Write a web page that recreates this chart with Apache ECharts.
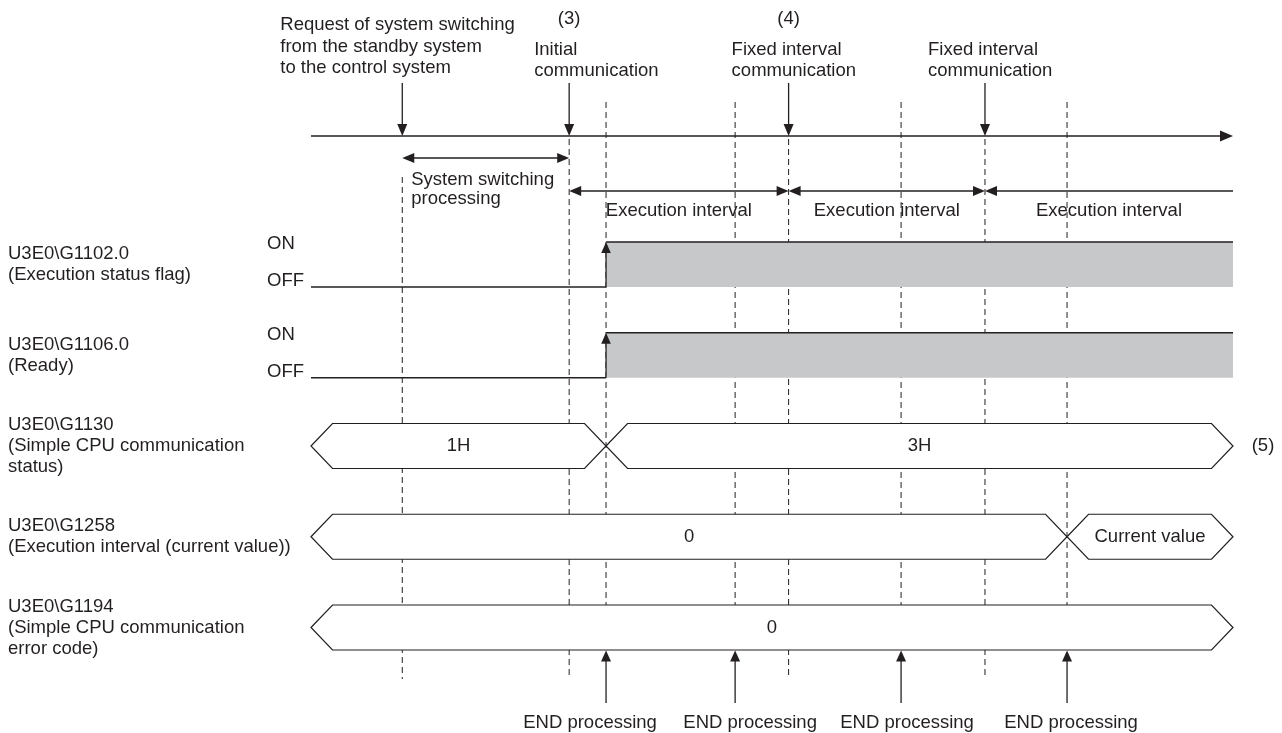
<!DOCTYPE html>
<html>
<head>
<meta charset="utf-8">
<script src="https://cdn.jsdelivr.net/npm/echarts@6/dist/echarts.min.js"></script>
<style>html,body{margin:0;padding:0;background:#fff}#c{width:1282px;height:733px}</style>
</head>
<body>
<div id="c"></div>
<script>
// ---------------- data (time along the timeline, arbitrary units 0..100) ----------------
const requestTime = 9.9;                       // Request of system switching
const initialCommTime = 28;                    // (3) Initial communication
const fixedCommTimes = [51.8, 73.1];           // (4) Fixed interval communication
const endProcessingTimes = [32, 46, 64, 82];   // END processing of the CPU
const switchingInterval = [9.9, 28];           // System switching processing
const executionIntervals = [[28, 51.8], [51.8, 73.1], [73.1, 100]];
const flagOnTime = 32;                         // U3E0\G1102.0 turns ON
const readyOnTime = 32;                        // U3E0\G1106.0 turns ON
const statusChanges = [0, 32, 100];            // U3E0\G1130
const statusValues = ['1H', '3H'];
const intervalChanges = [0, 82, 100];          // U3E0\G1258
const intervalValues = ['0', 'Current value'];
const errorChanges = [0, 100];                 // U3E0\G1194
const errorValues = ['0'];
const rowLabels = [
  'U3E0\\G1102.0\n(Execution status flag)',
  'U3E0\\G1106.0\n(Ready)',
  'U3E0\\G1130\n(Simple CPU communication\nstatus)',
  'U3E0\\G1258\n(Execution interval (current value))',
  'U3E0\\G1194\n(Simple CPU communication\nerror code)'
];
const requestLabel = ['Request of system switching', 'from the standby system', 'to the control system'];
const initialLabel = ['Initial', 'communication'];
const fixedLabel = ['Fixed interval', 'communication'];
const switchingLabel = ['System switching', 'processing'];
const executionLabel = 'Execution interval';
const endLabel = 'END processing';
const noteLabels = ['(3)', '(4)', '(5)'];

// ---------------- layout ----------------
const W = 1282, H = 733;
const T0_PX = 311, PX_PER_T = 9.22;           // timeline starts at 311px, 9.22 px per unit
const ROW0_PX = 264.5, ROW_PX = 90.75;        // row 0 centre and row pitch
const X_MIN = -T0_PX / PX_PER_T;
const X_MAX = (W - T0_PX) / PX_PER_T;
const Y_MIN = -ROW0_PX / ROW_PX;
const Y_MAX = (H - ROW0_PX) / ROW_PX;
const lane = px => (px - ROW0_PX) / ROW_PX;
const HALF = 22.5 / ROW_PX;
const LANE = {
  note: lane(19), text1: lane(50), text2: lane(71),
  req: [lane(25), lane(46.5), lane(68)],
  calloutTop: lane(83), timeline: lane(136), switchArrow: lane(158),
  switchText: [lane(180), lane(199)], execArrow: lane(191), execText: lane(211),
  guideTopEnd: lane(102), guideTopEvent: lane(139), guideTopReq: lane(177), guideBottom: lane(679),
  endTip: lane(650.5), endTail: lane(703), endText: lane(723)
};
const endLabelDx = [-16, 15, 6, 4];
const INK = '#231f20', GRAY = '#c7c8ca';
const FONT = '"Liberation Sans", Arial, sans-serif', FS = 18.5;

const seg = (a, b, st) => ({ type: 'line', shape: { x1: a[0], y1: a[1], x2: b[0], y2: b[1] },
  style: Object.assign({ stroke: INK, lineWidth: 1.3, fill: null }, st || {}) });
const head = (tip, dx, dy, len, hw) => {
  const bx = tip[0] - dx * len, by = tip[1] - dy * len;
  return { type: 'polygon', shape: { points: [tip, [bx - dy * hw, by + dx * hw], [bx + dy * hw, by - dx * hw]] },
    style: { fill: INK, stroke: null } };
};
const txt = (s, p, align, st) => ({ type: 'text', x: p[0], y: p[1],
  style: Object.assign({ text: s, fill: INK, fontSize: FS, fontFamily: FONT, align: align || 'left',
    verticalAlign: 'middle', lineHeight: 21 }, st || {}) });

function layer(name, z, build) {
  return { type: 'custom', name, z, silent: true, coordinateSystem: 'cartesian2d', clip: false,
    data: [[0, 0]], renderItem: (params, api) => ({ type: 'group', children: build(api) }) };
}

const guides = layer('guides', 1, api => {
  const out = [];
  const add = (t, y1, y2) => out.push(seg(api.coord([t, y1]), api.coord([t, y2]), { lineDash: [6, 4], lineWidth: 1 }));
  add(requestTime, LANE.guideTopReq, LANE.guideBottom);
  add(initialCommTime, LANE.guideTopEvent, LANE.guideBottom);
  fixedCommTimes.forEach(t => add(t, LANE.guideTopEvent, LANE.guideBottom));
  endProcessingTimes.forEach(t => add(t, LANE.guideTopEnd, 4 - HALF));
  return out;
});

const timeline = layer('timeline', 2, api => {
  const out = [];
  const a = api.coord([0, LANE.timeline]), b = api.coord([100, LANE.timeline]);
  out.push(seg(a, [b[0] - 6, b[1]]), head(b, 1, 0, 13, 5.5));
  [requestTime, initialCommTime].concat(fixedCommTimes).forEach(t => {
    const top = api.coord([t, LANE.calloutTop]), tip = api.coord([t, LANE.timeline]);
    out.push(seg(top, [tip[0], tip[1] - 6]), head(tip, 0, 1, 12, 5));
  });
  const s1 = api.coord([switchingInterval[0], LANE.switchArrow]), s2 = api.coord([switchingInterval[1], LANE.switchArrow]);
  out.push(seg([s1[0] + 6, s1[1]], [s2[0] - 6, s2[1]]), head(s1, -1, 0, 12, 5), head(s2, 1, 0, 12, 5));
  executionIntervals.forEach(([t1, t2]) => {
    const p1 = api.coord([t1, LANE.execArrow]), p2 = api.coord([t2, LANE.execArrow]);
    const open = t2 >= 100;
    out.push(seg([p1[0] + 6, p1[1]], [open ? p2[0] : p2[0] - 6, p2[1]]), head(p1, -1, 0, 12, 5));
    if (!open) out.push(head(p2, 1, 0, 12, 5));
  });
  return out;
});

const signals = layer('signals', 2, api => {
  const out = [];
  [flagOnTime, readyOnTime].forEach((t, r) => {
    const hi = r - HALF, lo = r + HALF;
    const pOn = api.coord([t, hi]), pOff = api.coord([t, lo]);
    const endHi = api.coord([100, hi]), start = api.coord([0, lo]);
    out.push({ type: 'rect', shape: { x: pOn[0], y: pOn[1], width: endHi[0] - pOn[0], height: pOff[1] - pOn[1] },
      style: { fill: GRAY, stroke: null } });
    out.push(seg(start, pOff), seg(pOff, [pOn[0], pOn[1] + 6]), seg(pOn, endHi), head(pOn, 0, -1, 11, 4.8));
    const x0 = api.coord([0, r])[0];
    out.push(txt('ON', [x0 - 44, api.coord([0, hi])[1] + 2]), txt('OFF', [x0 - 44, api.coord([0, lo])[1] - 6]));
  });
  return out;
});

const dataRows = layer('dataRows', 2, api => {
  const out = [];
  const D = 21.5;
  [[statusChanges, statusValues], [intervalChanges, intervalValues], [errorChanges, errorValues]].forEach(([ch, vals], i) => {
    const r = i + 2;
    const top = api.coord([0, r - HALF])[1], bot = api.coord([0, r + HALF])[1];
    for (let k = 0; k < vals.length; k++) {
      const a = api.coord([ch[k], r]), b = api.coord([ch[k + 1], r]);
      out.push({ type: 'polygon', shape: { points: [[a[0], a[1]], [a[0] + D, top], [b[0] - D, top], [b[0], b[1]], [b[0] - D, bot], [a[0] + D, bot]] },
        style: { fill: '#fff', stroke: INK, lineWidth: 1.2 } });
      out.push(txt(vals[k], [(a[0] + b[0]) / 2, a[1]], 'center'));
    }
  });
  const p5 = api.coord([100, 2]);
  out.push(txt(noteLabels[2], [p5[0] + 30, p5[1]], 'center'));
  return out;
});

const endArrows = layer('endArrows', 2, api => {
  const out = [];
  endProcessingTimes.forEach((t, i) => {
    const tip = api.coord([t, LANE.endTip]), tail = api.coord([t, LANE.endTail]);
    out.push(seg(tail, [tip[0], tip[1] + 6]), head(tip, 0, -1, 11, 5));
    out.push(txt(endLabel, [tip[0] + endLabelDx[i], api.coord([t, LANE.endText])[1]], 'center'));
  });
  return out;
});

const labels = layer('labels', 3, api => {
  const out = [];
  const px = t => api.coord([t, 0])[0];
  const py = y => api.coord([0, y])[1];
  requestLabel.forEach((s, i) => out.push(txt(s, [px(requestTime) - 122, py(LANE.req[i])])));
  out.push(txt(noteLabels[0], [px(initialCommTime), py(LANE.note)], 'center'));
  out.push(txt(noteLabels[1], [px(fixedCommTimes[0]), py(LANE.note)], 'center'));
  initialLabel.forEach((s, i) => out.push(txt(s, [px(initialCommTime) - 35, py(i ? LANE.text2 : LANE.text1)])));
  fixedCommTimes.forEach(t => fixedLabel.forEach((s, i) => out.push(txt(s, [px(t) - 57, py(i ? LANE.text2 : LANE.text1)]))));
  switchingLabel.forEach((s, i) => out.push(txt(s, [px(requestTime) + 9, py(LANE.switchText[i])])));
  executionIntervals.forEach(([a, b]) => out.push(txt(executionLabel, [(px(a) + px(b)) / 2, py(LANE.execText)], 'center')));
  rowLabels.forEach((s, r) => out.push(txt(s, [px(X_MIN) + 8, py(r)], 'left', { lineHeight: 21 })));
  return out;
});

const chart = echarts.init(document.getElementById('c'));
chart.setOption({
  animation: false,
  backgroundColor: '#fff',
  grid: { left: 0, right: 0, top: 0, bottom: 0 },
  xAxis: { type: 'value', min: X_MIN, max: X_MAX, show: false },
  yAxis: { type: 'value', min: Y_MIN, max: Y_MAX, inverse: true, show: false },
  series: [guides, timeline, signals, dataRows, endArrows, labels]
});
</script>
</body>
</html>
